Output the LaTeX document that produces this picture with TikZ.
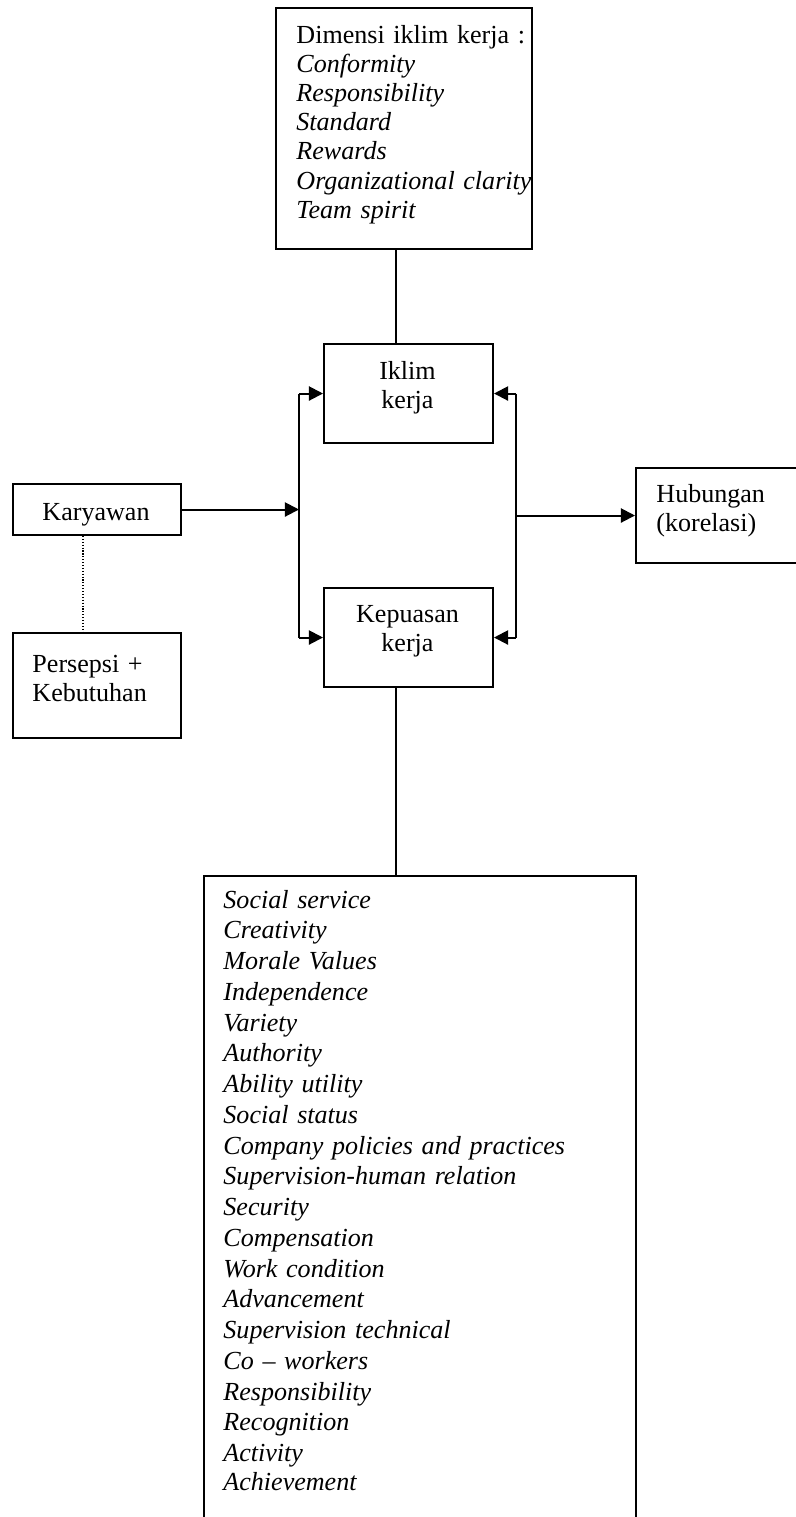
\documentclass[tikz,border=0pt]{standalone}
\usepackage{fontspec}
\setmainfont{Liberation Serif}
\usetikzlibrary{arrows.meta}
\newcommand\pxu{0.449pt}
\begin{document}
\begin{tikzpicture}[x=0.449pt,y=-0.449pt,
  box/.style={draw,line width=0.9pt,anchor=north west,inner sep=0pt},
  lbl/.style={inner sep=0pt,font=\fontsize{11.7pt}{13.1pt}\selectfont},
  line/.style={line width=0.9pt},
  arr/.style={line width=0.9pt,-{Triangle[length=6.3pt,width=6.3pt]}},
  dotline/.style={line width=0.5pt,dash pattern=on 0.5pt off 0.8pt}]
\path[use as bounding box,clip] (0,0) rectangle (796,1517);
% boxes
\node[box,minimum width=256*\pxu,minimum height=241*\pxu] (dim) at (275,7) {};
\node[box,minimum width=169*\pxu,minimum height=99*\pxu] (iklim) at (323,343) {};
\node[box,minimum width=169*\pxu,minimum height=99*\pxu] (kep) at (323,587) {};
\node[box,minimum width=168*\pxu,minimum height=51*\pxu] (kary) at (12,483) {};
\node[box,minimum width=168*\pxu,minimum height=105*\pxu] (pers) at (12,632) {};
\node[box,minimum width=190*\pxu,minimum height=95*\pxu] (hub) at (635,467) {};
\node[box,minimum width=432*\pxu,minimum height=700*\pxu] (fbox) at (203,875) {};
% texts
\node[lbl,anchor=base west,text width=400*\pxu,align=left] (dimtext) at (296,43)
  {\baselineskip=29.2\dimexpr\pxu\relax Dimensi iklim kerja :\\ \textit{Conformity}\\ \textit{Responsibility}\\ \textit{Standard}\\ \textit{Rewards}\\ \textit{Organizational clarity}\\ \textit{Team spirit}};
\node[lbl,anchor=base,text width=160*\pxu,align=center] (iklimtext) at (407.5,379)
  {\baselineskip=29.5\dimexpr\pxu\relax Iklim\\ kerja};
\node[lbl,anchor=base,text width=160*\pxu,align=center] (keptext) at (407.5,622)
  {\baselineskip=29.5\dimexpr\pxu\relax Kepuasan\\ kerja};
\node[lbl,anchor=base] (karytext) at (96,520) {Karyawan};
\node[lbl,anchor=base west,text width=150*\pxu,align=left] (perstext) at (32,672)
  {\baselineskip=28.5\dimexpr\pxu\relax Persepsi +\\ Kebutuhan};
\node[lbl,anchor=base west,text width=150*\pxu,align=left] (hubtext) at (656,502)
  {\baselineskip=30\dimexpr\pxu\relax Hubungan\\ (korelasi)};
\node[lbl,anchor=base west,text width=500*\pxu,align=left] (ftext) at (223,908)
  {\baselineskip=30.75\dimexpr\pxu\relax\itshape Social service\\ Creativity\\ Morale Values\\ Independence\\ Variety\\ Authority\\ Ability utility\\ Social status\\ Company policies and practices\\ Supervision-human relation\\ Security\\ Compensation\\ Work condition\\ Advancement\\ Supervision technical\\ Co -- workers\\ Responsibility\\ Recognition\\ Activity\\ Achievement};
% junction coordinates
\coordinate (cx) at (396,0);
\coordinate (lx) at (299,0);
\coordinate (rx) at (516,0);
\coordinate (dx) at (83,0);
% connectors
\draw[line] (cx |- dim.south) -- (cx |- iklim.north);
\draw[line] (cx |- kep.south) -- (cx |- fbox.north);
\draw[arr] (kary.east) -- (kary.east -| lx);
\draw[line] (lx |- iklim.west) -- (lx |- kep.west);
\draw[arr] (lx |- iklim.west) -- (iklim.west);
\draw[arr] (lx |- kep.west) -- (kep.west);
\draw[line] (rx |- iklim.east) -- (rx |- kep.east);
\draw[arr] (rx |- iklim.east) -- (iklim.east);
\draw[arr] (rx |- kep.east) -- (kep.east);
\draw[arr] (rx |- hub.west) -- (hub.west);
\draw[dotline] (dx |- kary.south) -- (dx |- pers.north);
\end{tikzpicture}
\end{document}
